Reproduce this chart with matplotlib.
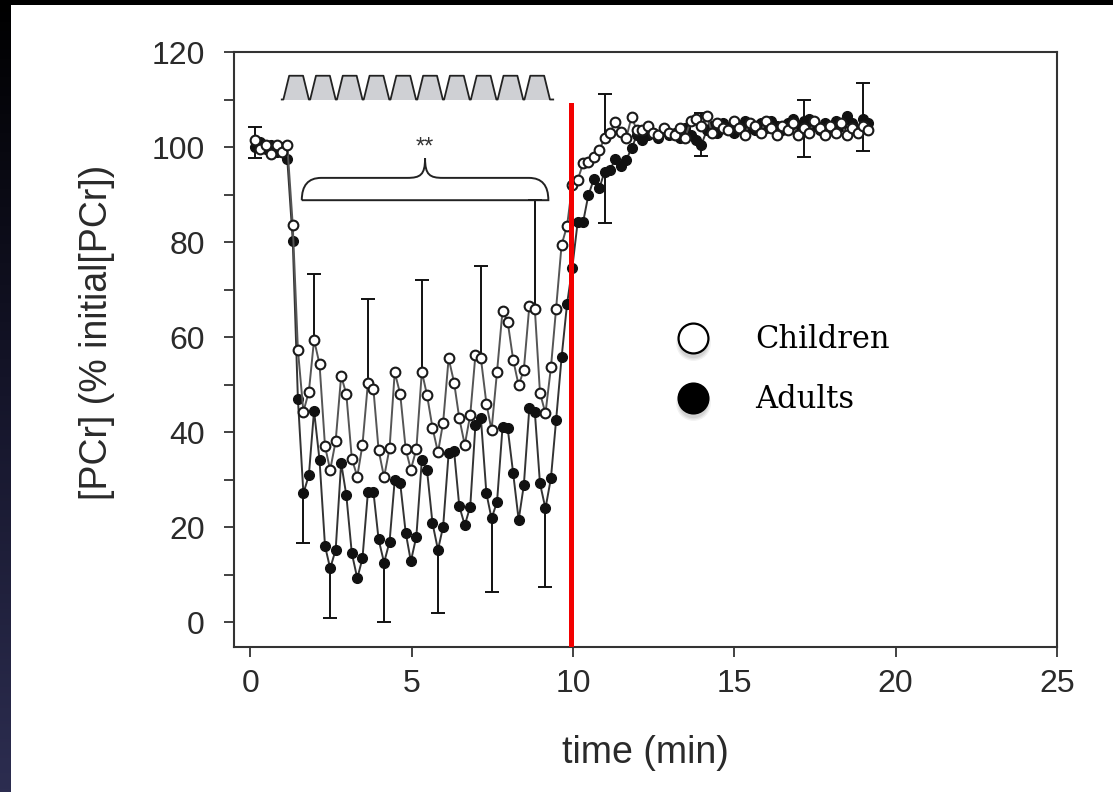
import numpy as np
import matplotlib
matplotlib.use("Agg")
import matplotlib.pyplot as plt
from matplotlib.path import Path
from matplotlib.patches import PathPatch, Rectangle
from matplotlib import transforms
from matplotlib.colors import LinearSegmentedColormap

# ---------------- data ----------------
time_min = [0.15, 0.32, 0.48, 0.65, 0.82, 0.98, 1.15, 1.32, 1.48, 1.65,
            1.82, 1.98, 2.15, 2.32, 2.48, 2.65, 2.82, 2.98, 3.15, 3.32,
            3.48, 3.65, 3.82, 3.98, 4.15, 4.32, 4.48, 4.65, 4.82, 4.98,
            5.15, 5.32, 5.48, 5.65, 5.82, 5.98, 6.15, 6.32, 6.48, 6.65,
            6.82, 6.98, 7.15, 7.32, 7.48, 7.65, 7.82, 7.98, 8.15, 8.32,
            8.48, 8.65, 8.82, 8.98, 9.15, 9.32, 9.48, 9.65, 9.82, 9.98,
            10.15, 10.32, 10.48, 10.65, 10.82, 10.98, 11.15, 11.32, 11.48, 11.65,
            11.82, 11.98, 12.15, 12.32, 12.48, 12.65, 12.82, 12.98, 13.15, 13.32,
            13.48, 13.65, 13.82, 13.98, 14.15, 14.32, 14.48, 14.65, 14.82, 14.98,
            15.15, 15.32, 15.48, 15.65, 15.82, 15.98, 16.15, 16.32, 16.48, 16.65,
            16.82, 16.98, 17.15, 17.32, 17.48, 17.65, 17.82, 17.98, 18.15, 18.32,
            18.48, 18.65, 18.82, 18.98, 19.15]

children = [101.5, 99.5, 100.5, 98.5, 100.5, 99.0, 100.5, 83.6, 57.3, 44.3,
            48.5, 59.4, 54.3, 37.0, 32.0, 38.1, 51.8, 48.0, 34.4, 30.6,
            37.3, 50.4, 49.0, 36.2, 30.5, 36.6, 52.6, 48.0, 36.4, 32.1,
            36.4, 52.7, 47.8, 40.9, 35.7, 42.0, 55.5, 50.4, 42.9, 37.3,
            43.6, 56.2, 55.5, 46.0, 40.4, 52.7, 65.5, 63.2, 55.2, 49.8,
            53.1, 66.5, 66.0, 48.3, 43.9, 53.6, 66.0, 79.4, 83.4, 92.0,
            93.1, 96.6, 96.9, 98.0, 99.4, 101.8, 103.0, 105.3, 103.2, 101.8,
            106.4, 103.5, 103.5, 104.5, 103.0, 102.5, 104.0, 103.0, 102.5, 104.0,
            102.0, 105.5, 106.0, 104.5, 106.5, 103.0, 105.0, 104.0, 103.5, 105.5,
            104.0, 102.5, 105.0, 104.5, 103.0, 105.5, 104.0, 102.5, 104.5, 103.5,
            105.0, 102.5, 104.0, 103.0, 105.5, 104.0, 102.5, 104.5, 103.0, 105.0,
            102.5, 104.0, 103.0, 104.5, 103.5]

adults = [100.0, 101.0, 99.5, 100.5, 99.0, 100.0, 97.5, 80.3, 46.9, 27.1,
          30.9, 44.5, 34.1, 16.0, 11.3, 15.2, 33.5, 26.7, 14.5, 9.2,
          13.4, 27.4, 27.4, 17.4, 12.5, 16.9, 29.9, 29.2, 18.8, 12.8,
          18.0, 34.1, 32.0, 20.8, 15.2, 20.1, 35.5, 35.9, 24.4, 20.4,
          24.3, 41.5, 42.9, 27.1, 21.8, 25.3, 41.0, 40.8, 31.3, 21.5,
          28.8, 45.0, 44.3, 29.2, 23.9, 30.3, 42.5, 55.7, 67.0, 74.5,
          84.3, 84.3, 89.9, 93.2, 91.3, 94.8, 95.2, 97.5, 96.0, 97.3,
          99.7, 102.5, 101.5, 102.5, 103.0, 102.0, 103.5, 102.5, 103.0, 102.0,
          104.0, 102.5, 101.5, 100.5, 103.5, 104.5, 103.0, 105.0, 104.0, 103.0,
          104.5, 105.5, 104.0, 103.5, 105.0, 104.0, 105.5, 104.5, 103.5, 105.0,
          106.0, 104.5, 105.5, 106.0, 104.5, 103.5, 105.0, 104.0, 105.5, 104.5,
          106.5, 105.0, 103.5, 106.0, 105.0]

# one-sided error bars: children upward, adults downward
child_err_idx = [0, 11, 21, 31, 42, 52, 65, 83, 102, 113]
child_err_top = [104.3, 73.3, 68.0, 72.1, 75.0, 88.8, 111.2, 107.1, 110.0, 113.5]
adult_err_idx = [0, 9, 14, 24, 34, 44, 54, 65, 83, 102, 113]
adult_err_bottom = [97.6, 16.7, 0.8, 0.0, 1.8, 6.4, 7.4, 84.1, 98.1, 98.0, 99.2]

# exercise protocol trace (10 contractions)
pulse_starts = [1.03, 1.86, 2.69, 3.52, 4.35, 5.18, 6.01, 6.84, 7.67, 8.50]
stim_begin, stim_end = 0.98, 9.39
stim_base, stim_top = 110.0, 115.0

# significance brace
brace_x0, brace_x1, brace_mid = 1.60, 9.24, 5.42
brace_yb, brace_yt, brace_peak = 88.8, 93.5, 97.6

end_exercise = 9.94
xticks = [0, 5, 10, 15, 20, 25]
yticks = [0, 20, 40, 60, 80, 100, 120]
yminor = [10, 30, 50, 70, 90, 110]

# ---------------- figure ----------------
W, H = 1113, 792
fig = plt.figure(figsize=(W / 100, H / 100), dpi=100)
fig.patch.set_facecolor("black")

# slide background: white panel + dark-blue gradient strip on the left
bax = fig.add_axes([0, 0, 1, 1], zorder=-10)
bax.axis("off")
bax.add_patch(Rectangle((11, 5), W - 11, H - 5, facecolor="white", edgecolor="none"))
grad = np.linspace(0, 1, 256).reshape(-1, 1)
cm = LinearSegmentedColormap.from_list("strip", ["#000000", "#15152a", "#2c2d50"])
bax.imshow(grad, aspect="auto", cmap=cm, extent=[0, 11, H, 0])
bax.set_xlim(0, W)
bax.set_ylim(H, 0)

ax = fig.add_axes([234 / W, 1 - 647 / H, (1057 - 234) / W, (647 - 52) / H])
ax.set_facecolor("white")
ax.set_xlim(-0.5, 25)
ax.set_ylim(-5.26, 120)

fam = ["Liberation Sans", "DejaVu Sans"]
tcol = "#2a2a2a"

t = np.array(time_min)
c = np.array(children)
a = np.array(adults)

# one-sided error bars (stem + cap)
ci = np.array(child_err_idx)
ai = np.array(adult_err_idx)
ctop = np.array(child_err_top)
abot = np.array(adult_err_bottom)
ax.vlines(t[ci], c[ci], ctop, color="#111111", lw=1.4, zorder=2)
ax.plot(t[ci], ctop, ls="none", marker="_", ms=10, mew=1.4, color="#111111", zorder=2)
ax.vlines(t[ai], abot, a[ai], color="#111111", lw=1.4, zorder=2)
ax.plot(t[ai], abot, ls="none", marker="_", ms=10, mew=1.4, color="#111111", zorder=2)

# series
ax.plot(t, a, color="#333333", lw=1.4, marker="o", ms=7, mfc="#111111",
        mec="#111111", mew=1.0, zorder=3)
ax.plot(t, c, color="#555555", lw=1.4, marker="o", ms=7, mfc="white",
        mec="#1a1a1a", mew=1.5, zorder=4)

# red line at end of exercise
ax.axvline(end_exercise, ymin=0, ymax=(108.8 + 5.26) / 125.26, color="#f20000",
           lw=3.6, zorder=6)

# protocol trace
rise, flat, fall = 0.18, 0.43, 0.18
sx, sy = [stim_begin], [stim_base]
for s in pulse_starts:
    sx += [s, s + rise, s + rise + flat, s + rise + flat + fall]
    sy += [stim_base, stim_top, stim_top, stim_base]
sx.append(stim_end)
sy.append(stim_base)
ax.fill_between(sx, sy, stim_base, color="#cfd0d4", lw=0, zorder=2)
ax.plot(sx, sy, color="#222222", lw=1.3, zorder=3)

# brace
m, yb, yt, yp = brace_mid, brace_yb, brace_yt, brace_peak
verts = [(brace_x0, yb),
         (brace_x0, yt), (brace_x0 + 0.6, yt),
         (m - 0.55, yt),
         (m - 0.15, yt), (m, yt + 0.6), (m, yp),
         (m, yt + 0.6), (m + 0.15, yt), (m + 0.55, yt),
         (brace_x1 - 0.6, yt),
         (brace_x1, yt), (brace_x1, yb),
         (brace_x0, yb)]
codes = [Path.MOVETO, Path.CURVE3, Path.CURVE3, Path.LINETO,
         Path.CURVE4, Path.CURVE4, Path.CURVE4,
         Path.CURVE4, Path.CURVE4, Path.CURVE4,
         Path.LINETO, Path.CURVE3, Path.CURVE3, Path.LINETO]
ax.add_patch(PathPatch(Path(verts, codes), fill=False, edgecolor="#222222",
                       lw=1.4, zorder=3))
ax.text(m, 99.8, "**", ha="center", va="center", fontsize=17, family=fam,
        color="#333333", zorder=3)

# legend (manual)
leg_x, leg_y1, leg_y2, txt_x = 0.5581, 0.5198, 0.419, 0.633
off = transforms.offset_copy(ax.transAxes, fig=fig, x=0, y=-3.5, units="points")
for alpha, grow in [(0.10, 4), (0.12, 2), (0.15, 0)]:
    for yy in (leg_y1, leg_y2):
        ax.plot([leg_x], [yy], marker="o", ms=21 + grow, mfc="#777777", mec="none",
                alpha=alpha, transform=off, zorder=7, clip_on=False)
ax.plot([leg_x], [leg_y1], marker="o", ms=21.5, mfc="white", mec="black", mew=1.6,
        transform=ax.transAxes, zorder=8, clip_on=False)
ax.plot([leg_x], [leg_y2], marker="o", ms=21.5, mfc="black", mec="black", mew=1.6,
        transform=ax.transAxes, zorder=8, clip_on=False)
ax.text(txt_x, 0.5176, "Children", transform=ax.transAxes, ha="left", va="center",
        fontsize=22, family=["DejaVu Serif"], color="black", zorder=8)
ax.text(txt_x, 0.4168, "Adults", transform=ax.transAxes, ha="left", va="center",
        fontsize=22, family=["DejaVu Serif"], color="black", zorder=8)

# axes styling
for sp in ax.spines.values():
    sp.set_color("#333333")
    sp.set_linewidth(1.5)
ax.set_xticks(xticks)
ax.set_yticks(yticks)
ax.set_yticks(yminor, minor=True)
ax.tick_params(axis="both", which="both", direction="out", length=7, width=1.3,
               color="#333333", labelcolor=tcol, labelsize=23)
ax.tick_params(axis="x", pad=9)
ax.tick_params(axis="y", pad=14)
for lab in ax.get_xticklabels() + ax.get_yticklabels():
    lab.set_family(fam)

ax.set_xlabel("time (min)", fontsize=27, family=fam, color=tcol)
ax.set_ylabel("[PCr] (% initial[PCr])", fontsize=27, family=fam, color=tcol)
ax.xaxis.set_label_coords(0.5, -0.148)
ax.yaxis.set_label_coords(-0.1446, 0.528)

fig.savefig("out.png", dpi=100, facecolor=fig.get_facecolor())
